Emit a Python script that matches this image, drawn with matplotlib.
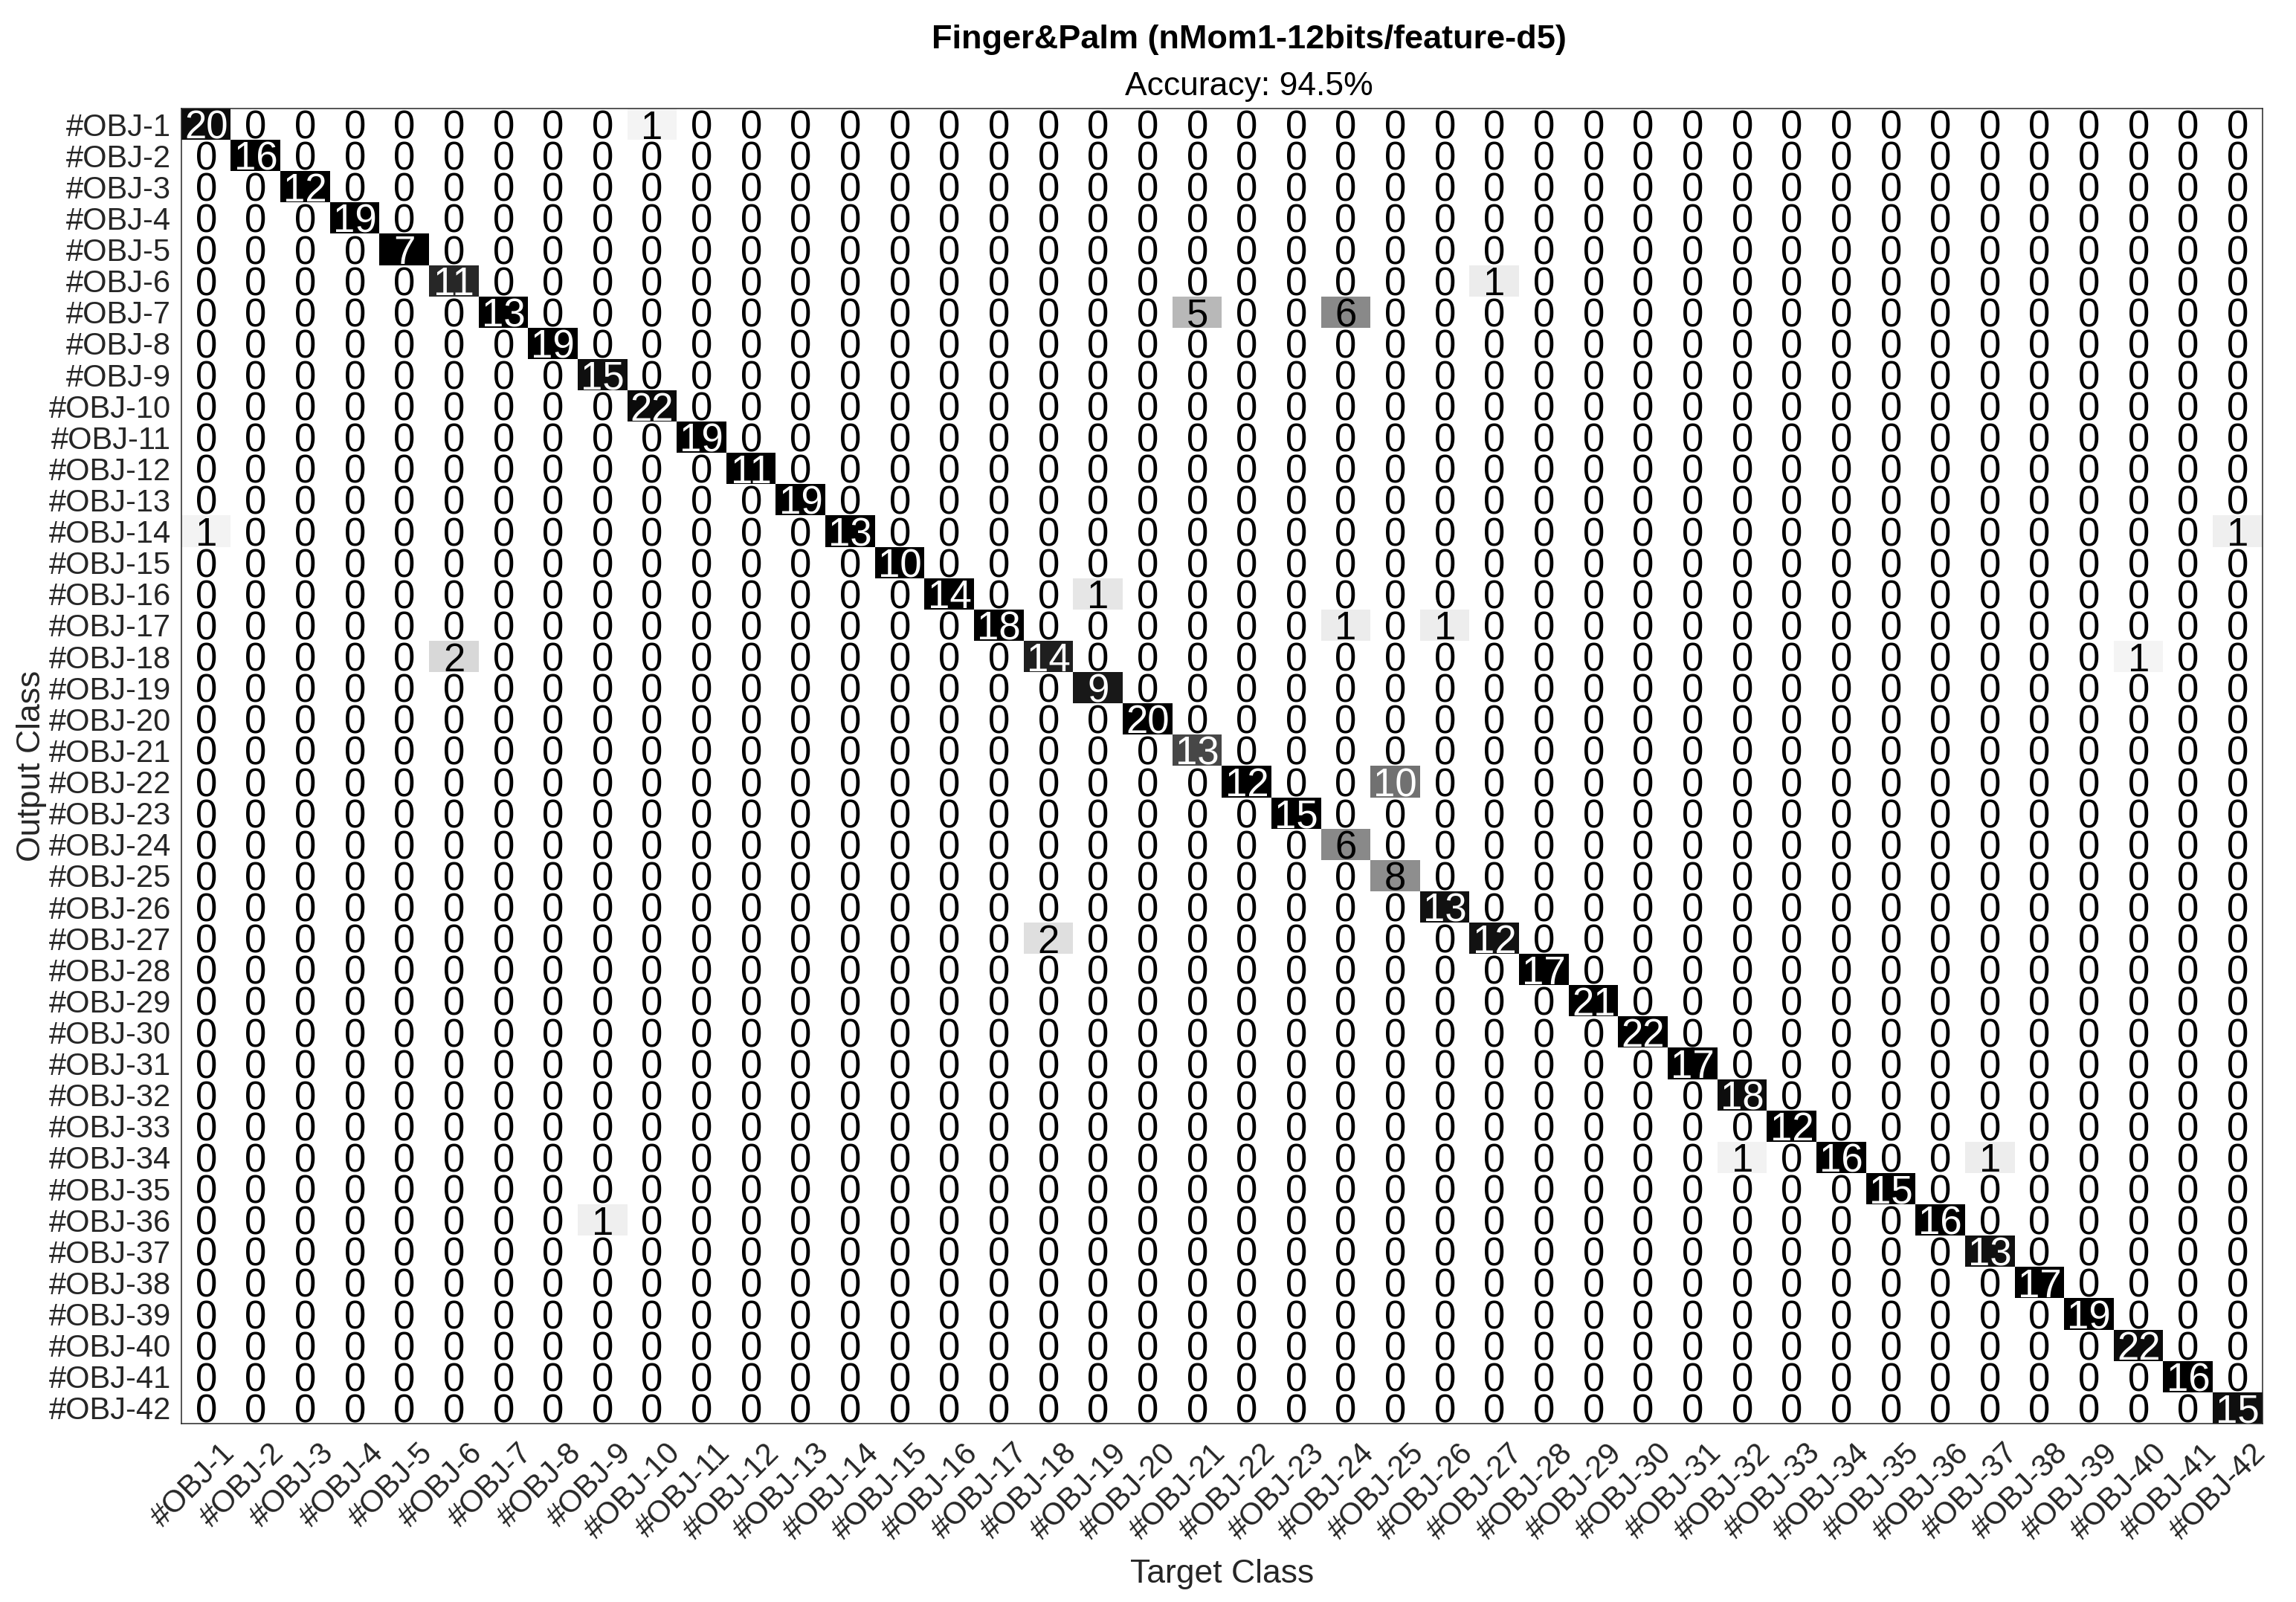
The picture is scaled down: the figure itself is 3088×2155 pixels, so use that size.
import numpy as np
import matplotlib
matplotlib.use("Agg")
import matplotlib.pyplot as plt
import matplotlib.transforms as mtransforms

plt.rcParams['font.family'] = ['Liberation Sans', 'DejaVu Sans']

# ---- data ----
class_labels = [f"#OBJ-{i}" for i in range(1, 43)]
# correct predictions (diagonal), in class order
diag_counts = [20, 16, 12, 19, 7, 11, 13, 19, 15, 22, 19, 11, 19, 13, 10, 14, 18, 14,
               9, 20, 13, 12, 15, 6, 8, 13, 12, 17, 21, 22, 17, 18, 12, 16, 15, 16,
               13, 17, 19, 22, 16, 15]
# off-diagonal confusions (1-based output row, 1-based target column, count)
off_rows = [1, 6, 7, 7, 14, 14, 16, 17, 17, 18, 18, 22, 27, 34, 34, 36]
off_cols = [10, 27, 21, 24, 1, 42, 19, 24, 26, 6, 40, 25, 18, 32, 37, 9]
off_counts = [1, 1, 5, 6, 1, 1, 1, 1, 1, 2, 1, 10, 2, 1, 1, 1]

title_text = "Finger&Palm (nMom1-12bits/feature-d5)"
subtitle_text = "Accuracy: 94.5%"

# ---- build matrix ----
n = len(class_labels)
cm = np.diag(np.array(diag_counts, dtype=float))
for r, c, v in zip(off_rows, off_cols, off_counts):
    cm[r - 1, c - 1] = v
col_sum = cm.sum(axis=0)
frac = cm / np.where(col_sum == 0, 1, col_sum)

W, H = 3088, 2155
fig = plt.figure(figsize=(W / 100, H / 100), dpi=100)
left, right, top, bottom = 244, 3043, 146, 1915
ax = fig.add_axes([left / W, 1 - bottom / H, (right - left) / W, (bottom - top) / H])

ax.imshow(frac, cmap='gray_r', vmin=0, vmax=1, aspect='auto', interpolation='nearest')

for i in range(n):
    for j in range(n):
        v = int(cm[i, j])
        col = 'white' if frac[i, j] > 0.5 else 'black'
        ax.text(j, i, str(v), ha='center', va='center_baseline', fontsize=38, color=col)

ax.set_xticks(range(n))
ax.set_yticks(range(n))
ax.set_xticklabels(class_labels, rotation=45, ha='right', va='top',
                   rotation_mode='anchor', fontsize=30, color='#262626')
ax.set_yticklabels(class_labels, fontsize=30, color='#262626')
ax.tick_params(axis='both', length=0)
ax.tick_params(axis='x', pad=14)
ax.tick_params(axis='y', pad=10)

offset = mtransforms.ScaledTranslation(0.18, 0, fig.dpi_scale_trans)
for lab in ax.get_xticklabels():
    lab.set_transform(lab.get_transform() + offset)

for s in ax.spines.values():
    s.set_color('#262626')
    s.set_linewidth(1.1)

fig.text(1680 / W, 1 - 65 / H, title_text, ha='center', va='baseline',
         fontsize=32.5, fontweight='bold', color='black')
fig.text(1680 / W, 1 - 128 / H, subtitle_text, ha='center', va='baseline',
         fontsize=32, color='black')
fig.text((left + right) / 2 / W, 1 - 2117 / H, "Target Class", ha='center', va='center',
         fontsize=32, color='#262626')
fig.text(43 / W, 1 - (top + bottom) / 2 / H, "Output Class", ha='center', va='center',
         rotation=90, fontsize=32, color='#262626')

fig.savefig("out.png", dpi=100, facecolor='white')
